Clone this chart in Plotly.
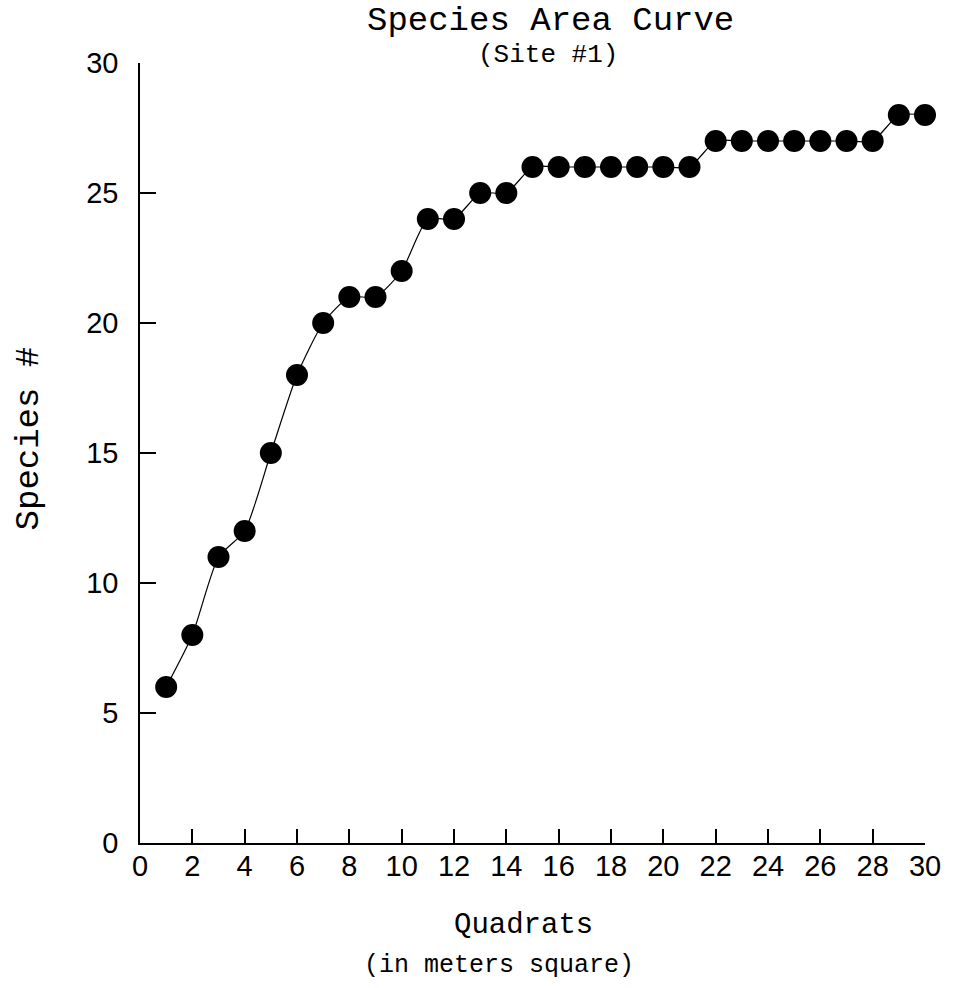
import plotly.graph_objects as go

quadrats = list(range(1, 31))
species = [6, 8, 11, 12, 15, 18, 20, 21, 21, 22, 24, 24, 25, 25, 26, 26, 26, 26, 26, 26, 26,
           27, 27, 27, 27, 27, 27, 27, 28, 28]
x_ticks = list(range(0, 31, 2))
y_ticks = list(range(0, 31, 5))

fig = go.Figure()
fig.add_trace(go.Scatter(
    x=quadrats, y=species, mode="lines+markers",
    line=dict(color="black", width=1.2, shape="spline", smoothing=0.6),
    marker=dict(color="black", size=22),
    showlegend=False, cliponaxis=False,
))

mono = "Liberation Mono, Courier New, monospace"
sans = "Liberation Sans, Arial, sans-serif"

fig.update_layout(
    width=953, height=988,
    margin=dict(l=140, r=25, t=63, b=145),
    plot_bgcolor="white", paper_bgcolor="white",
    xaxis=dict(range=[0, 30], tickvals=x_ticks, ticks="inside", ticklen=14, tickwidth=1.5,
               tickcolor="black", showline=True, linecolor="black", linewidth=1.5,
               showgrid=False, zeroline=False, tickfont=dict(family=sans, size=29, color="black"),
               ticklabelstandoff=-4),
    yaxis=dict(range=[0, 30], tickvals=y_ticks, ticks="inside", ticklen=16, tickwidth=1.5,
               tickcolor="black", showline=True, linecolor="black", linewidth=1.5,
               showgrid=False, zeroline=False, tickfont=dict(family=sans, size=29, color="black"),
               ticklabelstandoff=14),
    annotations=[
        dict(text="Species Area Curve", x=552, y=21, xref="paper", yref="paper", xanchor="center",
             yanchor="middle", showarrow=False, font=dict(family=mono, size=34, color="black")),
        dict(text="(Site #1)", x=550, y=55, xref="paper", yref="paper", xanchor="center",
             yanchor="middle", showarrow=False, font=dict(family=mono, size=26, color="black")),
        dict(text="Quadrats", x=525, y=925, xref="paper", yref="paper", xanchor="center",
             yanchor="middle", showarrow=False, font=dict(family=mono, size=29, color="black")),
        dict(text="(in meters square)", x=500, y=966, xref="paper", yref="paper", xanchor="center",
             yanchor="middle", showarrow=False, font=dict(family=mono, size=25, color="black")),
        dict(text="Species #", x=29, y=438, xref="paper", yref="paper", xanchor="center",
             yanchor="middle", textangle=-90, showarrow=False,
             font=dict(family=mono, size=34, color="black")),
    ],
)

# convert pixel-positioned annotations to paper coords
plot_l, plot_r, plot_t, plot_b = 140, 953 - 25, 63, 988 - 145
pw, ph = plot_r - plot_l, plot_b - plot_t
for a in fig.layout.annotations:
    a.x = (a.x - plot_l) / pw
    a.y = (plot_b - a.y) / ph

fig.write_html("out.html")
